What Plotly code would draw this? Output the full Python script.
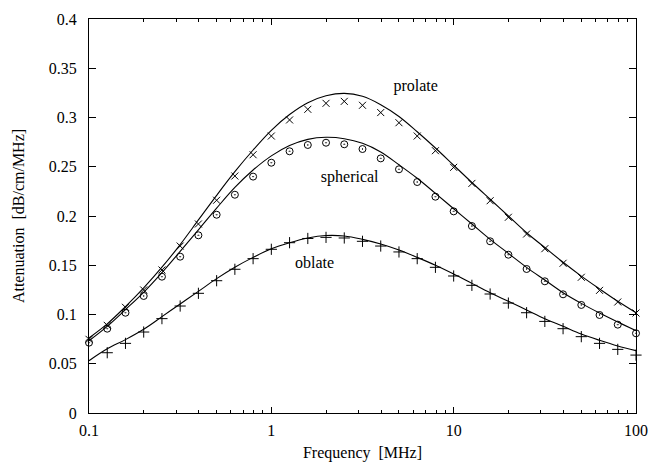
import plotly.graph_objects as go

freq = [0.1, 0.1259, 0.1585, 0.1995, 0.2512, 0.3162, 0.3981, 0.5012, 0.631, 0.7943,
        1.0, 1.259, 1.585, 1.995, 2.512, 3.162, 3.981, 5.012, 6.31, 7.943,
        10.0, 12.59, 15.85, 19.95, 25.12, 31.62, 39.81, 50.12, 63.1, 79.43, 100.0]

prolate_pts = [0.0748, 0.089, 0.1073, 0.1249, 0.1452, 0.1695, 0.1919, 0.216, 0.2406, 0.2622,
               0.2812, 0.2975, 0.3083, 0.3144, 0.3164, 0.3124, 0.305, 0.2947, 0.2812, 0.2663,
               0.2494, 0.2331, 0.2155, 0.1987, 0.1817, 0.1668, 0.152, 0.1378, 0.1245, 0.1127, 0.1015]
prolate_fit = [0.0762, 0.0905, 0.108, 0.127, 0.148, 0.171, 0.196, 0.221, 0.245, 0.267,
               0.287, 0.303, 0.315, 0.322, 0.3245, 0.3215, 0.313, 0.301, 0.2855, 0.269,
               0.2515, 0.234, 0.217, 0.2, 0.183, 0.168, 0.153, 0.139, 0.126, 0.1134, 0.1018]

spherical_pts = [0.0714, 0.0856, 0.1018, 0.1188, 0.1384, 0.1587, 0.1804, 0.2013, 0.2216, 0.240,
                 0.2541, 0.2657, 0.2721, 0.2744, 0.2728, 0.268, 0.2585, 0.2474, 0.2345, 0.2196,
                 0.2047, 0.1898, 0.1743, 0.1607, 0.1462, 0.1337, 0.1205, 0.1097, 0.0995, 0.0897, 0.0809]
spherical_fit = [0.0734, 0.088, 0.105, 0.1225, 0.1425, 0.164, 0.186, 0.208, 0.229, 0.2467,
                 0.261, 0.2715, 0.2778, 0.2799, 0.2785, 0.2738, 0.265, 0.252, 0.2383, 0.223,
                 0.2074, 0.1919, 0.1763, 0.1621, 0.1479, 0.135, 0.1221, 0.1113, 0.1015, 0.0924, 0.0836]

oblate_freq = freq[1:]
oblate_pts = [0.0612, 0.0707, 0.0822, 0.0958, 0.1086, 0.1215, 0.1343, 0.1459, 0.1567,
              0.1662, 0.1729, 0.1772, 0.1783, 0.1777, 0.1743, 0.1695, 0.1635, 0.1567, 0.1479,
              0.1391, 0.1296, 0.1208, 0.1116, 0.1018, 0.093, 0.0856, 0.0775, 0.0707, 0.0646, 0.0588]
oblate_fit = [0.0531, 0.0652, 0.0745, 0.085, 0.0978, 0.1107, 0.1235, 0.1364, 0.148, 0.158,
              0.1668, 0.1729, 0.1777, 0.1802, 0.1797, 0.1763, 0.1716, 0.1655, 0.158, 0.15,
              0.1411, 0.1316, 0.1221, 0.1134, 0.1046, 0.0958, 0.088, 0.0802, 0.0738, 0.068, 0.0633]

labels = ["prolate", "spherical", "oblate"]
label_x = [6.19, 2.69, 1.726]
label_y = [0.3313, 0.2383, 0.1513]

font = "Liberation Serif, Times New Roman, serif"
fig = go.Figure()

for fit in (prolate_fit, spherical_fit, oblate_fit):
    fig.add_trace(go.Scatter(x=freq, y=fit, mode="lines",
                             line=dict(color="black", width=1.1, shape="spline"),
                             showlegend=False, hoverinfo="skip"))

fig.add_trace(go.Scatter(x=freq, y=prolate_pts, mode="markers", cliponaxis=False,
                         marker=dict(symbol="x-thin-open", size=7, color="black",
                                     line=dict(color="black", width=1)),
                         showlegend=False))
fig.add_trace(go.Scatter(x=freq, y=spherical_pts, mode="markers", cliponaxis=False,
                         marker=dict(symbol="circle-open-dot", size=7, color="black",
                                     line=dict(color="black", width=1)),
                         showlegend=False))
fig.add_trace(go.Scatter(x=oblate_freq, y=oblate_pts, mode="markers", cliponaxis=False,
                         marker=dict(symbol="cross-thin-open", size=8, color="black",
                                     line=dict(color="black", width=1)),
                         showlegend=False))

fig.add_trace(go.Scatter(x=label_x, y=label_y, mode="text", text=labels,
                         textfont=dict(family=font, size=16, color="black"), showlegend=False))

fig.update_layout(
    width=663, height=462,
    margin=dict(l=89, r=27, t=19, b=49, autoexpand=False),
    paper_bgcolor="white", plot_bgcolor="white",
    font=dict(family=font, size=16, color="black"),
)
fig.update_xaxes(
    type="log", range=[-1, 2], automargin=False,
    tickvals=[0.1, 1, 10, 100], ticktext=["0.1", "1", "10", "100"],
    ticks="inside", ticklen=6, tickwidth=1, tickcolor="black",
    minor=dict(ticks="inside", ticklen=3, tickwidth=1, tickcolor="black",
               tickvals=[0.2, 0.3, 0.4, 0.5, 0.6, 0.7, 0.8, 0.9, 2, 3, 4, 5, 6, 7, 8, 9,
                         20, 30, 40, 50, 60, 70, 80, 90], showgrid=False),
    showline=True, linecolor="black", linewidth=1.3, mirror="ticks",
    showgrid=False, zeroline=False,
    ticklabelstandoff=3,
    title=dict(text="Frequency\u00a0\u00a0[MHz]", font=dict(size=16), standoff=14),
)
fig.update_yaxes(
    range=[0, 0.4], automargin=False,
    tickvals=[0, 0.05, 0.1, 0.15, 0.2, 0.25, 0.3, 0.35, 0.4],
    ticktext=["0", "0.05", "0.1", "0.15", "0.2", "0.25", "0.3", "0.35", "0.4"],
    ticks="inside", ticklen=7, tickwidth=1, tickcolor="black",
    showline=True, linecolor="black", linewidth=1.3, mirror="ticks",
    showgrid=False, zeroline=False,
    ticklabelstandoff=8,
    title=dict(text="Attenuation\u00a0\u00a0[dB/cm/MHz]", font=dict(size=16), standoff=20),
)

fig.write_html("out.html")
